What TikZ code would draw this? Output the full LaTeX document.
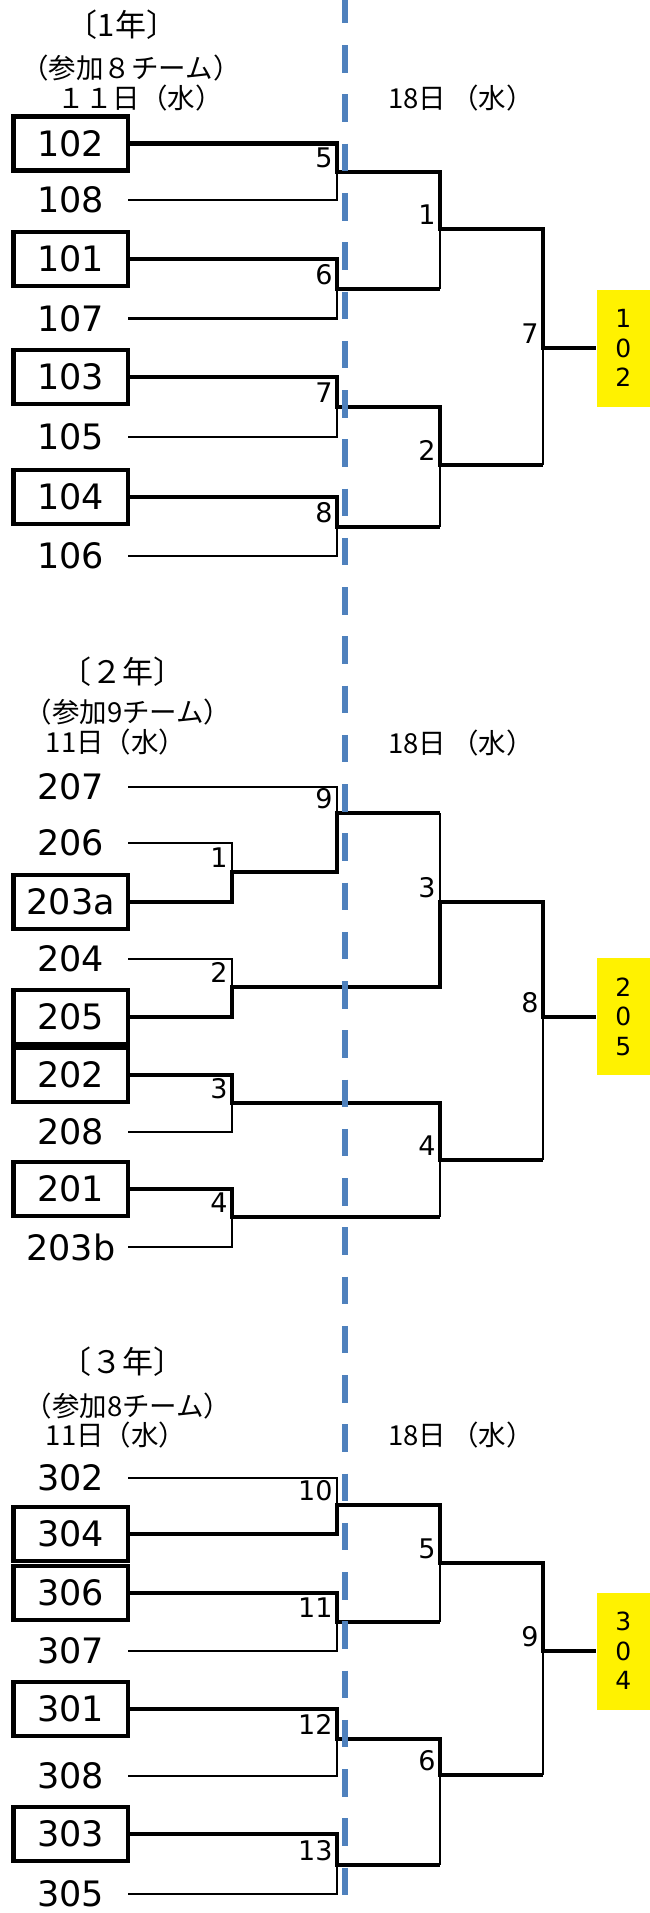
\documentclass[tikz,border=0pt]{standalone}
\usepackage{fontspec}
\setmainfont{DejaVu Sans}
\newfontfamily\jpfont{Noto Sans CJK JP}
\definecolor{divblue}{RGB}{79,129,189}
\tikzset{
      team/.style={
          rectangle,
          minimum width=114.4pt,
          minimum height=54pt,
          inner sep=0pt,
          outer sep=0pt,
          font=\fontsize{35}{40}\selectfont
      },
      seed/.style={
          team,
          draw=black,
          line width=4.5pt
      },
      win/.style={line width=4.5pt},
      lose/.style={line width=2.5pt},
      mlabel/.style={
          inner sep=0pt,
          font=\fontsize{27}{30}\selectfont
      },
      head/.style={
          inner sep=0pt,
          font=\jpfont\fontsize{27.5}{30}\selectfont
      },
      title/.style={
          inner sep=0pt,
          font=\jpfont\fontsize{31}{34}\selectfont
      },
      champ/.style={
          rectangle,
          fill=yellow,
          minimum width=53.3pt,
          minimum height=117pt,
          inner sep=0pt,
          align=center,
          font=\fontsize{25}{29.5}\selectfont
      },
      divider/.style={
          draw=divblue,
          line width=6pt,
          dash pattern=on 27.5pt off 21.75pt
      }
  }

\begin{document}
\begin{tikzpicture}[x=1pt, y=-1pt, every label/.style={mlabel}, label distance=6pt]
    \useasboundingbox (0,0) rectangle (650,1913);

    %% 1年
    \node [title] (g1) at (122,25) {〔1年〕};
    \node [head] (g1n) at (131,68) {（参加８チーム）};
    \node [head] (g1d) at (140,98) {１１日（水）};
    \node [head] (g1e) at (461,98) {18日\,（水）};

    \node [seed] (t102) at (70.8,143.5) {102};
    \node [team] (t108) at (70.8,200) {108};
    \node [seed] (t101) at (70.8,259) {101};
    \node [team] (t107) at (70.8,318.5) {107};
    \node [seed] (t103) at (70.8,377) {103};
    \node [team] (t105) at (70.8,437) {105};
    \node [seed] (t104) at (70.8,497) {104};
    \node [team] (t106) at (70.8,556) {106};

    \coordinate [label=above left:5] (a5) at (337,172);
    \coordinate [label=above left:6] (a6) at (337,289);
    \coordinate [label=above left:7] (a7) at (337,407);
    \coordinate [label=above left:8] (a8) at (337,527);
    \coordinate [label=above left:1] (b1) at (440,229);
    \coordinate [label=above left:2] (b2) at (440,465);
    \coordinate [label=above left:7] (b7) at (543,348);

    \node [champ] (w1) at (623.3,348) {1\\0\\2};

    \draw[win]  (t102.east) -| (a5) -| (b1) -| (b7) -- (b7 -| w1.west);
    \draw[lose] (t108.east) -| (a5);
    \draw[win]  (t101.east) -| (a6) -- (a6 -| b1);
    \draw[lose] (a6 -| b1) -- (b1);
    \draw[lose] (t107.east) -| (a6);
    \draw[win]  (t103.east) -| (a7) -| (b2) -- (b2 -| b7);
    \draw[lose] (b2 -| b7) -- (b7);
    \draw[lose] (t105.east) -| (a7);
    \draw[win]  (t104.east) -| (a8) -- (a8 -| b2);
    \draw[lose] (a8 -| b2) -- (b2);
    \draw[lose] (t106.east) -| (a8);

    %% 2年
    \node [title] (g2) at (122,672) {〔２年〕};
    \node [head] (g2n) at (128,712) {（参加9チーム）};
    \node [head] (g2d) at (116,742) {11日（水）};
    \node [head] (g2e) at (461,743) {18日\,（水）};

    \node [team] (t207) at (70.8,787) {207};
    \node [team] (t206) at (70.8,843) {206};
    \node [seed] (t203a) at (70.8,902) {203a};
    \node [team] (t204) at (70.8,959) {204};
    \node [seed] (t205) at (70.8,1017) {205};
    \node [seed] (t202) at (70.8,1075) {202};
    \node [team] (t208) at (70.8,1132) {208};
    \node [seed] (t201) at (70.8,1189) {201};
    \node [team] (t203b) at (70.8,1247) {203b};

    \coordinate [label=above left:1] (a1) at (232,872);
    \coordinate [label=above left:2] (a2) at (232,987);
    \coordinate [label=above left:3] (a3) at (232,1103);
    \coordinate [label=above left:4] (a4) at (232,1217);
    \coordinate [label=above left:9] (a9) at (337,813);
    \coordinate [label=above left:3] (b3) at (440,902);
    \coordinate [label=above left:4] (b4) at (440,1160);
    \coordinate [label=above left:8] (b8) at (543,1017);

    \node [champ] (w2) at (623.3,1016.5) {2\\0\\5};

    \draw[win]  (t205.east) -| (a2) -| (b3) -| (b8) -- (b8 -| w2.west);
    \draw[lose] (t204.east) -| (a2);
    \draw[win]  (t203a.east) -| (a1) -| (a9) -- (a9 -| b3);
    \draw[lose] (a9 -| b3) -- (b3);
    \draw[lose] (t206.east) -| (a1);
    \draw[lose] (t207.east) -| (a9);
    \draw[win]  (t202.east) -| (a3) -| (b4) -- (b4 -| b8);
    \draw[lose] (b4 -| b8) -- (b8);
    \draw[lose] (t208.east) -| (a3);
    \draw[win]  (t201.east) -| (a4) -- (a4 -| b4);
    \draw[lose] (a4 -| b4) -- (b4);
    \draw[lose] (t203b.east) -| (a4);

    %% 3年
    \node [title] (g3) at (122,1362) {〔３年〕};
    \node [head] (g3n) at (128,1406) {（参加8チーム）};
    \node [head] (g3d) at (116,1435) {11日（水）};
    \node [head] (g3e) at (461,1435) {18日\,（水）};

    \node [team] (t302) at (70.8,1478) {302};
    \node [seed] (t304) at (70.8,1534) {304};
    \node [seed] (t306) at (70.8,1593) {306};
    \node [team] (t307) at (70.8,1651) {307};
    \node [seed] (t301) at (70.8,1709) {301};
    \node [team] (t308) at (70.8,1776) {308};
    \node [seed] (t303) at (70.8,1834) {303};
    \node [team] (t305) at (70.8,1894) {305};

    \coordinate [label=above left:10] (a10) at (337,1505);
    \coordinate [label=above left:11] (a11) at (337,1622);
    \coordinate [label=above left:12] (a12) at (337,1739);
    \coordinate [label=above left:13] (a13) at (337,1865);
    \coordinate [label=above left:5] (b5) at (440,1563);
    \coordinate [label=above left:6] (b6) at (440,1775);
    \coordinate [label=above left:9] (b9) at (543,1651);

    \node [champ] (w3) at (623.3,1651) {3\\0\\4};

    \draw[win]  (t304.east) -| (a10) -| (b5) -| (b9) -- (b9 -| w3.west);
    \draw[lose] (t302.east) -| (a10);
    \draw[win]  (t306.east) -| (a11) -- (a11 -| b5);
    \draw[lose] (a11 -| b5) -- (b5);
    \draw[lose] (t307.east) -| (a11);
    \draw[win]  (t301.east) -| (a12) -| (b6) -- (b6 -| b9);
    \draw[lose] (b6 -| b9) -- (b9);
    \draw[lose] (t308.east) -| (a12);
    \draw[win]  (t303.east) -| (a13) -- (a13 -| b6);
    \draw[lose] (a13 -| b6) -- (b6);
    \draw[lose] (t305.east) -| (a13);

    %%
    \draw[divider] (345,-4) -- (345,1920);
    %%
\end{tikzpicture}
\end{document}
